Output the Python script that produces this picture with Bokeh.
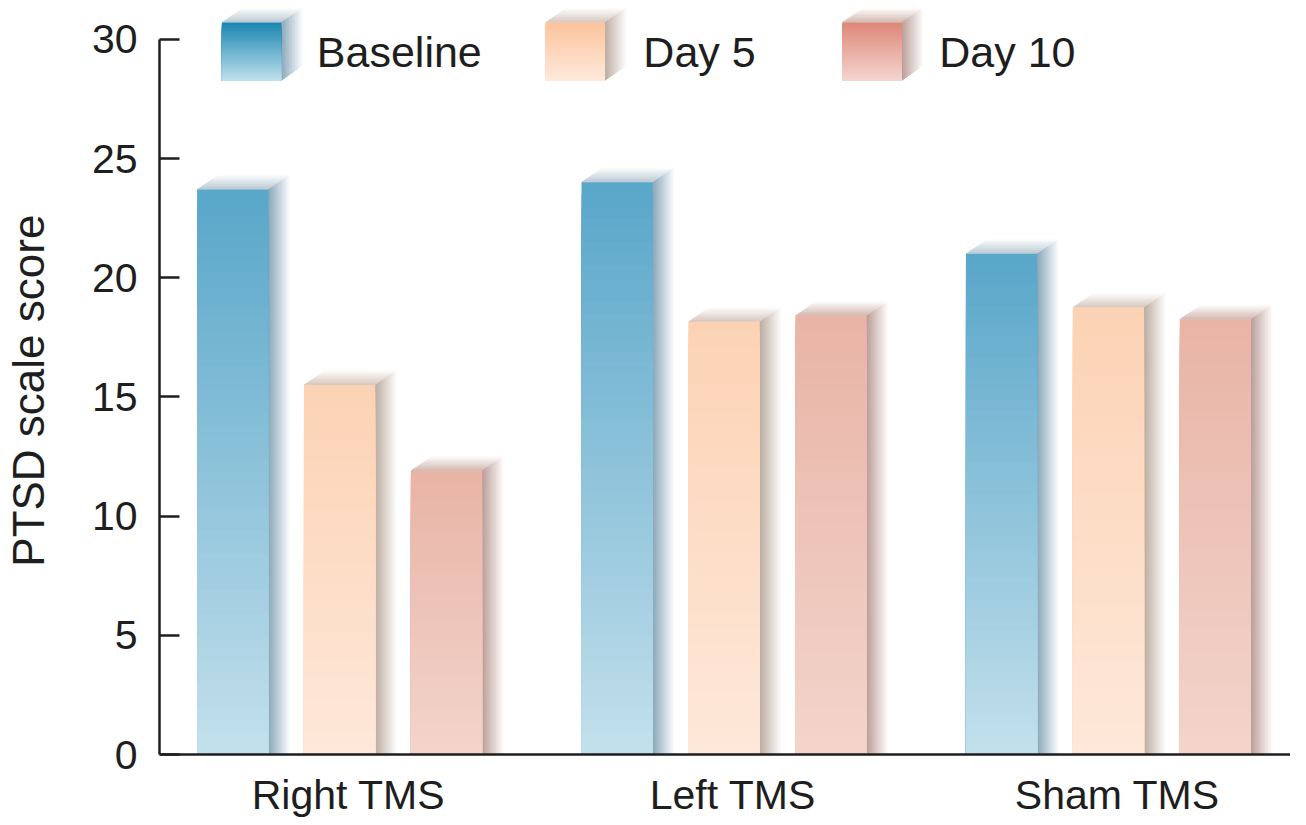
import numpy as np
from bokeh.plotting import figure
from bokeh.models import Range1d, FixedTicker, Span
from bokeh.embed import file_html
from bokeh.resources import INLINE
from bokeh.core.properties import value

# ---------------- data ----------------
groups = ["Right TMS", "Left TMS", "Sham TMS"]
series = ["Baseline", "Day 5", "Day 10"]
baseline = [23.7, 24.0, 21.0]
day5 = [15.5, 18.15, 18.75]
day10 = [11.9, 18.4, 18.25]
y_ticks = [0, 5, 10, 15, 20, 25, 30]
y_label = "PTSD scale score"

values = {"Baseline": baseline, "Day 5": day5, "Day 10": day10}

# ---------------- styles ----------------
front_top = {"Baseline": "#58a6c9", "Day 5": "#fcd2b4", "Day 10": "#e8b4a6"}
front_bot = {"Baseline": "#c3e0ec", "Day 5": "#fee8d9", "Day 10": "#f3d4cb"}
side_col = {"Baseline": "#8aa8ba", "Day 5": "#bcaca1", "Day 10": "#bb9d97"}
topface_col = {"Baseline": "#b9c9d3", "Day 5": "#d6c8be", "Day 10": "#d2b8b1"}
leg_top = {"Baseline": "#1b86b1", "Day 5": "#fcc39c", "Day 10": "#de8778"}
leg_bot = {"Baseline": "#c0e0ec", "Day 5": "#fee9dc", "Day 10": "#f4d6cf"}
FONT = "Liberation Sans"
INK = "#1e1e1e"

# ---------------- layout (x range is in page pixels) ----------------
W, H = 1290, 817
BORDER_LEFT = 147
PX_PER_UNIT = 23.84
ZERO_Y = 754                           # canvas row of value 0
X0, X1 = 155, 155 + (W - BORDER_LEFT)
GROUP_X0, GROUP_STEP = 337, 388.5
BAR_STEP, BAR_W = 108, 72
DEPTH_X = 22
DEPTH_Y = 15 / PX_PER_UNIT
LABEL_SHIFT = 9
Y_START = -(H - ZERO_Y) / PX_PER_UNIT
Y_END = ZERO_Y / PX_PER_UNIT


def row(py):
    # canvas pixel row -> data value
    return (ZERO_Y - py) / PX_PER_UNIT


def hx(c):
    c = c.lstrip("#")
    return np.array([int(c[i:i + 2], 16) for i in (0, 2, 4)], dtype=float)


def lerp(c1, c2, t):
    a, b = hx(c1), hx(c2)
    r = a + (b - a) * t
    return "#%02x%02x%02x" % tuple(int(round(v)) for v in r)


front_xs, front_ys, front_c = [], [], []
back_xs, back_ys, back_c = [], [], []

N_FRONT, M_SIDE, K_TOP = 48, 14, 8


def block(l, r, b, t, ctop, cbot, cside, ctopface, slant_bottom=False):
    h = t - b
    for q in range(K_TOP, 0, -1):
        f = q / K_TOP
        c = lerp(ctopface, "#ffffff", (q - 0.5) / K_TOP)
        back_xs.append([l, r, r + DEPTH_X * f, l + DEPTH_X * f])
        back_ys.append([t, t, t + DEPTH_Y * f, t + DEPTH_Y * f])
        back_c.append(c)
    for j in range(M_SIDE, 0, -1):
        f = j / M_SIDE
        w = DEPTH_X * f
        c = lerp(cside, "#ffffff", (j - 0.5) / M_SIDE)
        bb = b + (DEPTH_Y * f if slant_bottom else 0)
        back_xs.append([r, r + w, r + w, r])
        back_ys.append([b, bb, t + DEPTH_Y * f, t])
        back_c.append(c)
    for k in range(N_FRONT, 0, -1):
        f = k / N_FRONT
        c = lerp(cbot, ctop, (k - 0.5) / N_FRONT)
        front_xs.append([l, r, r, l])
        front_ys.append([b, b, b + h * f, b + h * f])
        front_c.append(c)


for s_i, s in enumerate(series):
    for g_i, g in enumerate(groups):
        v = values[s][g_i]
        xc = GROUP_X0 + g_i * GROUP_STEP + (s_i - 1) * BAR_STEP
        block(xc - BAR_W / 2, xc + BAR_W / 2, 0, v,
              front_top[s], front_bot[s], side_col[s], topface_col[s])

leg_left = [218, 545, 845]
leg_text_x = [314, 644, 943]
for s_i, s in enumerate(series):
    l = leg_left[s_i]
    block(l, l + 60, row(80), row(22),
          leg_top[s], leg_bot[s], side_col[s], topface_col[s], slant_bottom=True)

# ---------------- figure ----------------
p = figure(width=W, height=H, output_backend="svg", toolbar_location=None,
           x_range=Range1d(X0, X1), y_range=Range1d(Y_START, Y_END),
           x_axis_location=None,
           min_border_left=BORDER_LEFT, min_border_right=0, min_border_top=0,
           min_border_bottom=0)
p.outline_line_color = None
p.grid.visible = False
p.background_fill_color = "white"
p.border_fill_color = "white"

p.patches(back_xs, back_ys, fill_color=back_c, line_color=None)
p.patches(front_xs, front_ys, fill_color=front_c, line_color=None)

# x axis line at value 0
p.add_layout(Span(location=0, dimension="width", line_color=INK, line_width=2.5))

# legend texts
p.text(x=leg_text_x, y=[row(51)] * 3, text=series,
       text_font=value(FONT), text_font_size=value("43px"), text_color=INK,
       text_baseline="middle", text_align="left")

# category labels under the axis
label_x = [GROUP_X0 + i * GROUP_STEP + LABEL_SHIFT for i in range(len(groups))]
p.text(x=label_x, y=[row(794)] * len(groups), text=groups,
       text_font=value(FONT), text_font_size=value("41px"), text_color=INK,
       text_baseline="middle", text_align="center")

# y axis
ya = p.yaxis[0]
ya.ticker = FixedTicker(ticks=y_ticks)
ya.bounds = (0, 30)
ya.major_tick_in = 20
ya.major_tick_out = 0
ya.minor_tick_line_color = None
ya.axis_line_width = 2.5
ya.axis_line_color = INK
ya.major_tick_line_width = 2.5
ya.major_tick_line_color = INK
ya.major_label_text_font = FONT
ya.major_label_text_font_size = "41px"
ya.major_label_text_color = INK
ya.major_label_standoff = 22
ya.axis_label = "\u00a0" * 3 + y_label
ya.axis_label_text_font = FONT
ya.axis_label_text_font_size = "44px"
ya.axis_label_text_font_style = "normal"
ya.axis_label_text_color = INK
ya.axis_label_standoff = 36

open("out.html", "w").write(file_html(p, INLINE))
